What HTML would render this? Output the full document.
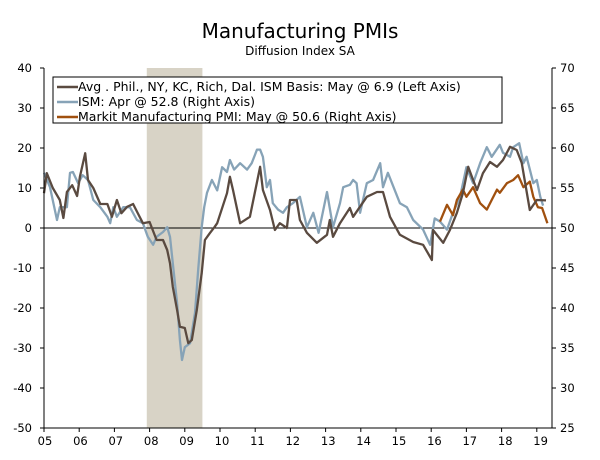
<!DOCTYPE html>
<html><head><meta charset="utf-8"><style>
body{margin:0;background:#fff;width:600px;height:455px;overflow:hidden}
svg text{font-family:"DejaVu Sans","Liberation Sans",sans-serif}
</style></head><body>
<svg id="chart" width="600" height="455">
<text x="300" y="38" text-anchor="middle" font-size="20">Manufacturing PMIs</text>
<text x="300" y="55" text-anchor="middle" font-size="12">Diffusion Index SA</text>
<g id="plot"></g>
</svg>
<script>
const leftTicks=[40,30,20,10,0,-10,-20,-30,-40,-50];
const rightTicks=[70,65,60,55,50,45,40,35,30,25];
const yearLabels=["05","06","07","08","09","10","11","12","13","14","15","16","17","18","19"];
const recession=[2007.92,2009.5];
const avgDates=[2005.0,2005.08,2005.25,2005.45,2005.55,2005.65,2005.8,2005.94,2006.02,2006.17,2006.25,2006.4,2006.6,2006.8,2006.93,2007.07,2007.2,2007.36,2007.53,2007.67,2007.81,2008.0,2008.2,2008.38,2008.5,2008.58,2008.66,2008.78,2008.86,2009.0,2009.1,2009.2,2009.34,2009.48,2009.57,2009.71,2009.85,2009.92,2010.2,2010.28,2010.37,2010.57,2010.85,2011.14,2011.22,2011.42,2011.56,2011.7,2011.9,2011.99,2012.18,2012.27,2012.47,2012.75,2013.04,2013.12,2013.21,2013.41,2013.69,2013.78,2014.17,2014.46,2014.63,2014.83,2015.11,2015.49,2015.77,2016.02,2016.05,2016.34,2016.53,2016.73,2016.9,2017.05,2017.19,2017.3,2017.47,2017.67,2017.87,2018.04,2018.24,2018.43,2018.57,2018.8,2019.0,2019.26];
const avgValues=[8.7,13.7,10,7,2.5,9,10.7,8,12.8,18.7,12,10,6,6,2.8,7,3.7,5.3,6,3.6,1.2,1.5,-3,-3,-5.5,-8.8,-14.7,-20.5,-24.7,-25,-28.8,-28,-20.5,-11.3,-3,-1.3,0.3,1.2,8.7,12.8,9.5,1.2,2.8,15.3,9.5,4.5,-0.5,1.2,0,7,7,2,-1.2,-3.7,-1.7,2,-2.2,1.2,5,2.8,7.8,9,9,2.8,-1.7,-3.5,-4.2,-8,-0.5,-3.7,-0.5,3.8,8.7,15.3,12,9.5,13.7,16.5,15.3,17,20.3,19.5,16.3,4.5,7,6.9];
const ismDates=[2005.0,2005.17,2005.37,2005.45,2005.65,2005.74,2005.82,2005.97,2006.1,2006.25,2006.4,2006.6,2006.8,2006.88,2006.97,2007.07,2007.25,2007.44,2007.64,2007.81,2007.95,2008.1,2008.2,2008.38,2008.5,2008.58,2008.66,2008.78,2008.86,2008.92,2009.0,2009.15,2009.29,2009.38,2009.48,2009.55,2009.63,2009.77,2009.92,2010.06,2010.2,2010.28,2010.4,2010.57,2010.77,2010.9,2011.05,2011.14,2011.22,2011.33,2011.42,2011.5,2011.65,2011.79,2011.9,2012.07,2012.27,2012.47,2012.65,2012.8,2013.04,2013.21,2013.41,2013.5,2013.69,2013.78,2013.88,2013.98,2014.17,2014.35,2014.55,2014.63,2014.77,2015.11,2015.31,2015.49,2015.77,2015.97,2016.1,2016.25,2016.45,2016.62,2016.82,2017.0,2017.19,2017.39,2017.58,2017.72,2017.95,2018.04,2018.24,2018.33,2018.5,2018.62,2018.71,2018.9,2019.0,2019.1,2019.18];
const ismValues=[56.9,55.1,51,52.6,52.6,56.9,57,55.6,56.6,56,53.5,52.6,51.4,50.6,52.6,51.4,52.6,52.6,51,50.6,48.9,47.9,48.9,49.5,50.1,48.9,45.6,40.6,36,33.5,35.1,35.6,39.4,44.8,50.1,52.6,54.4,56,54.7,57.6,57,58.5,57.3,58.1,57.3,58.1,59.8,59.8,58.9,55.1,56,53.1,52.3,51.9,52.6,53.1,53.9,50.1,51.9,49.4,54.5,50.1,53.1,55.1,55.4,56,55.6,51.9,55.6,56,58.1,55.1,56.9,53.1,52.6,51,49.8,47.9,51.2,50.8,49.8,51.9,53.9,57.6,55.6,58.1,60.1,58.9,60.4,59.4,58.9,60.1,60.6,58.1,58.9,55.6,56,53.9,52.8];
const markitDates=[2016.25,2016.45,2016.62,2016.73,2016.9,2017.0,2017.19,2017.39,2017.58,2017.72,2017.87,2017.95,2018.15,2018.33,2018.47,2018.62,2018.8,2018.9,2019.03,2019.15,2019.3];
const markitValues=[50.8,52.9,51.6,53.5,54.8,53.9,55.1,53.1,52.3,53.5,54.8,54.4,55.6,56,56.6,55.1,55.8,53.9,52.6,52.5,50.6];

const NS="http://www.w3.org/2000/svg";
const g=document.getElementById('plot');
const X0=44,X1=552,YT=68,YB=428;
function xs(t){return X0+(t-2005)*35.2;}
function ysL(v){return 228-4*v;}
function ysR(v){return ysL((v-50)*2);}
function mk(tag,attrs){const e=document.createElementNS(NS,tag);for(const k in attrs)e.setAttribute(k,attrs[k]);g.appendChild(e);return e;}

const rec=mk('rect',{x:xs(recession[0]),y:YT,width:xs(recession[1])-xs(recession[0]),height:YB-YT,fill:'#d8d3c6'});



const zl=mk('line',{x1:X0,x2:X1,y1:ysL(0),y2:ysL(0),stroke:'#000','stroke-width':1});



function series(dates,vals,ys,color,name){
  const d=dates.map((t,i)=>(i?'L':'M')+xs(t).toFixed(1)+','+ys(vals[i]).toFixed(1)).join('');
  const p=mk('path',{d:d,fill:'none',stroke:color,'stroke-width':2.3,'stroke-linejoin':'round'});
  
  
}
series(ismDates,ismValues,ysR,'#87a3b7','ism-line');
series(markitDates,markitValues,ysR,'#a0500f','markit-pmi-line');
series(avgDates,avgValues,ysL,'#5a4a40','avg-regional-line');

const frame=mk('path',{d:`M${X0},${YT}V${YB}H${X1}V${YT}`,fill:'none',stroke:'#000','stroke-width':1});



leftTicks.forEach(v=>{
  const y=ysL(v);
  mk('line',{x1:X0-4,x2:X0,y1:y,y2:y,stroke:'#000'});
  const t=mk('text',{x:X0-12,y:y+4,'text-anchor':'end','font-size':11.5});
  t.textContent=v;
  
  
});
rightTicks.forEach(v=>{
  const y=ysR(v);
  mk('line',{x1:X1,x2:X1+4,y1:y,y2:y,stroke:'#000'});
  const t=mk('text',{x:X1+8,y:y+4,'font-size':11.5});
  t.textContent=v;
  
  
});
yearLabels.forEach((lab,i)=>{
  const x=xs(2005+i)+1+i*0.2;
  mk('line',{x1:xs(2005+i),x2:xs(2005+i),y1:YB,y2:YB+4,stroke:'#000'});
  const t=mk('text',{x:x,y:YB+17,'text-anchor':'middle','font-size':11.5});
  t.textContent=lab;
  
  
});

const lb=mk('rect',{x:53,y:77,width:449,height:46,fill:'#fff',stroke:'#000','stroke-width':1});


const legendItems=[["Avg . Phil., NY, KC, Rich, Dal. ISM Basis: May @ 6.9  (Left Axis)",'#5a4a40'],["ISM: Apr @ 52.8  (Right Axis)",'#87a3b7'],["Markit Manufacturing PMI: May @ 50.6  (Right Axis)",'#a0500f']];
legendItems.forEach((it,i)=>{
  const y=86+i*15;
  mk('line',{x1:57,x2:78,y1:y+1,y2:y+1,stroke:it[1],'stroke-width':2.5});
  const t=mk('text',{x:78,y:y+5,'font-size':12.5});
  t.textContent=it[0];
  
  
});
</script>
</body></html>
